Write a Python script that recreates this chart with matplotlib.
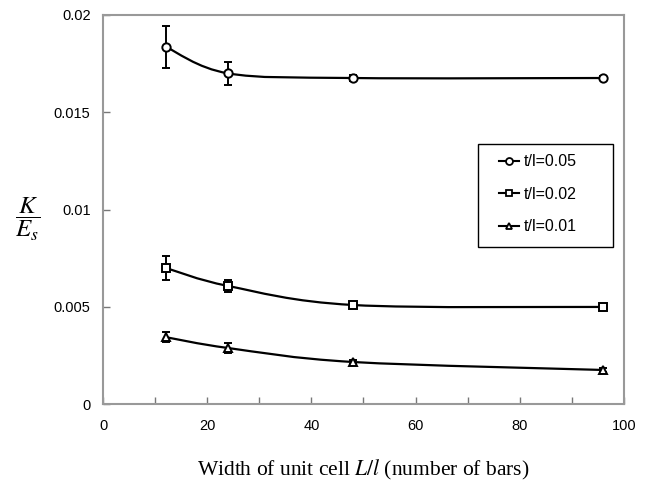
import numpy as np
import matplotlib.pyplot as plt
from matplotlib.path import Path
from matplotlib.patches import PathPatch, Rectangle
from matplotlib.lines import Line2D

plt.rcParams['mathtext.fontset'] = 'stix'
plt.rcParams['font.family'] = ['Liberation Sans', 'DejaVu Sans']

# unit cell width (number of bars)
cells = [12, 24, 48, 96]

# K/Es for each t/l, with error bars
k_05 = [0.01837, 0.0170, 0.01676, 0.01676]
err_05 = [0.00108, 0.00058, 0.00015, 0.0001]
k_02 = [0.0070, 0.00607, 0.00509, 0.00499]
err_02 = [0.00062, 0.0003, 0.0001, 0.0001]
k_01 = [0.00344, 0.00288, 0.00216, 0.00175]
err_01 = [0.00025, 0.00025, 0.0001, 0.0001]

labels = ['t/l=0.05', 't/l=0.02', 't/l=0.01']
markers = ['o', 's', '^']

xticks = [0, 20, 40, 60, 80, 100]
yticks = [0, 0.005, 0.01, 0.015, 0.02]
ytick_labels = ['0', '0.005', '0.01', '0.015', '0.02']


def smooth_path(x, y):
    # excel-style smoothed line: bezier segments through the points
    pts = np.column_stack([x, y]).astype(float)
    ext = np.vstack([pts[0], pts, pts[-1]])
    verts = [pts[0]]
    codes = [Path.MOVETO]
    for i in range(1, len(ext) - 2):
        p0, p1, p2, p3 = ext[i - 1], ext[i], ext[i + 1], ext[i + 2]
        verts += [p1 + (p2 - p0) / 6, p2 - (p3 - p1) / 6, p2]
        codes += [Path.CURVE4] * 3
    return Path(verts, codes)


fig = plt.figure(figsize=(6.45, 4.82), dpi=100)
ax = fig.add_axes([0.1597, 0.1618, 0.8077, 0.8071])

for vals, errs, m in zip([k_05, k_02, k_01], [err_05, err_02, err_01], markers):
    ax.add_patch(PathPatch(smooth_path(cells, vals), fill=False, ec='black', lw=1.6))
    ax.errorbar(cells, vals, yerr=errs, fmt=m, ms=6, mfc='white', mec='black',
                mew=1.4, ecolor='black', elinewidth=1.4, capsize=2.7, capthick=1.4)

ax.set_xlim(0, 100)
ax.set_ylim(0, 0.02)
ax.set_xticks(xticks)
ax.set_xticks(range(0, 101, 10), minor=True)
ax.set_yticks(yticks)
ax.set_yticklabels(ytick_labels)
ax.tick_params(which='both', direction='in', length=5, color='#777777', width=1,
               labelsize=10.5, top=False, right=False)
ax.tick_params(axis='x', pad=11)
ax.tick_params(axis='y', pad=9)
for s in ax.spines.values():
    s.set_color('#999999')
    s.set_linewidth(1.5)

# legend frame drawn by hand, legend entries inside it
ax.add_patch(Rectangle((0.72, 0.404), 0.259, 0.264, transform=ax.transAxes,
                       fill=False, ec='black', lw=1, zorder=5))
handles = [Line2D([], [], color='black', lw=1.5, marker=m, ms=5, mfc='white',
                  mec='black', mew=1.3) for m in markers]
ax.legend(handles, labels, loc='upper left', bbox_to_anchor=(0.761, 0.642),
          frameon=False, fontsize=11.5, borderpad=0, borderaxespad=0,
          handlelength=1.2, handletextpad=0.3, labelspacing=1.1)

fig.text(28 / 645, 1 - 219 / 482, r'$\dfrac{K}{E_s}$', fontsize=18,
         ha='center', va='center')
fig.text(363 / 645, 1 - 470 / 482, 'Width of unit cell $L/l$ (number of bars)',
         fontsize=15.5, family='Liberation Serif', ha='center', va='center')

fig.savefig('out.png', dpi=100)
